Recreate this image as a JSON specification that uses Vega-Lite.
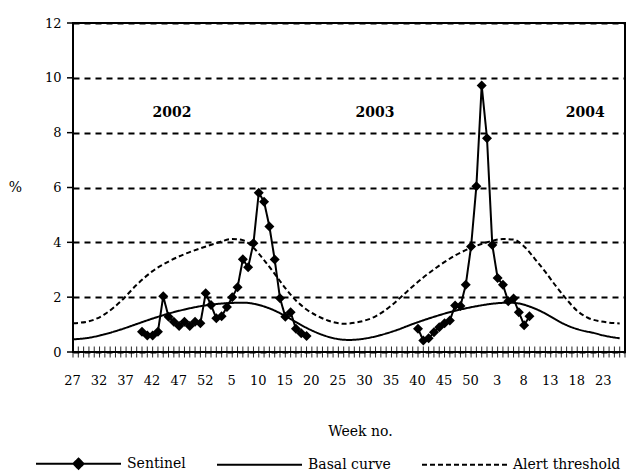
{
  "$schema": "https://vega.github.io/schema/vega-lite/v6.json",
  "width": 552,
  "height": 329,
  "autosize": {"type": "none"},
  "padding": {"left": 73, "top": 23, "right": 7, "bottom": 123},
  "background": "white",
  "config": {
    "font": "DejaVu Serif",
    "view": {"stroke": "black", "strokeWidth": 2},
    "axis": {
      "labelFont": "DejaVu Serif", "labelFontSize": 13, "labelColor": "black",
      "titleFont": "DejaVu Serif", "titleFontSize": 14, "titleFontWeight": "normal", "titleColor": "black"
    }
  },
  "datasets": {
    "curves": [
      {"i": 0, "v": 0.46, "series": "Basal curve"},
      {"i": 3, "v": 0.52, "series": "Basal curve"},
      {"i": 6, "v": 0.65, "series": "Basal curve"},
      {"i": 9, "v": 0.82, "series": "Basal curve"},
      {"i": 12, "v": 1.02, "series": "Basal curve"},
      {"i": 15, "v": 1.22, "series": "Basal curve"},
      {"i": 18, "v": 1.4, "series": "Basal curve"},
      {"i": 21, "v": 1.55, "series": "Basal curve"},
      {"i": 24, "v": 1.67, "series": "Basal curve"},
      {"i": 27, "v": 1.75, "series": "Basal curve"},
      {"i": 30, "v": 1.79, "series": "Basal curve"},
      {"i": 32, "v": 1.8, "series": "Basal curve"},
      {"i": 34, "v": 1.76, "series": "Basal curve"},
      {"i": 36, "v": 1.66, "series": "Basal curve"},
      {"i": 38, "v": 1.51, "series": "Basal curve"},
      {"i": 40, "v": 1.31, "series": "Basal curve"},
      {"i": 42, "v": 1.09, "series": "Basal curve"},
      {"i": 44, "v": 0.88, "series": "Basal curve"},
      {"i": 46, "v": 0.7, "series": "Basal curve"},
      {"i": 48, "v": 0.56, "series": "Basal curve"},
      {"i": 50, "v": 0.47, "series": "Basal curve"},
      {"i": 52, "v": 0.44, "series": "Basal curve"},
      {"i": 55, "v": 0.49, "series": "Basal curve"},
      {"i": 58, "v": 0.62, "series": "Basal curve"},
      {"i": 61, "v": 0.8, "series": "Basal curve"},
      {"i": 64, "v": 1.02, "series": "Basal curve"},
      {"i": 67, "v": 1.22, "series": "Basal curve"},
      {"i": 70, "v": 1.4, "series": "Basal curve"},
      {"i": 73, "v": 1.55, "series": "Basal curve"},
      {"i": 76, "v": 1.67, "series": "Basal curve"},
      {"i": 79, "v": 1.76, "series": "Basal curve"},
      {"i": 82, "v": 1.8, "series": "Basal curve"},
      {"i": 84, "v": 1.77, "series": "Basal curve"},
      {"i": 86, "v": 1.66, "series": "Basal curve"},
      {"i": 88, "v": 1.5, "series": "Basal curve"},
      {"i": 90, "v": 1.29, "series": "Basal curve"},
      {"i": 92, "v": 1.07, "series": "Basal curve"},
      {"i": 94, "v": 0.9, "series": "Basal curve"},
      {"i": 96, "v": 0.78, "series": "Basal curve"},
      {"i": 98, "v": 0.7, "series": "Basal curve"},
      {"i": 100, "v": 0.6, "series": "Basal curve"},
      {"i": 103, "v": 0.5, "series": "Basal curve"},
      {"i": 0, "v": 1.05, "series": "Alert threshold"},
      {"i": 3, "v": 1.12, "series": "Alert threshold"},
      {"i": 6, "v": 1.38, "series": "Alert threshold"},
      {"i": 9, "v": 1.85, "series": "Alert threshold"},
      {"i": 12, "v": 2.45, "series": "Alert threshold"},
      {"i": 15, "v": 2.95, "series": "Alert threshold"},
      {"i": 18, "v": 3.3, "series": "Alert threshold"},
      {"i": 21, "v": 3.57, "series": "Alert threshold"},
      {"i": 24, "v": 3.78, "series": "Alert threshold"},
      {"i": 27, "v": 3.97, "series": "Alert threshold"},
      {"i": 30, "v": 4.12, "series": "Alert threshold"},
      {"i": 32, "v": 4.08, "series": "Alert threshold"},
      {"i": 34, "v": 3.8, "series": "Alert threshold"},
      {"i": 36, "v": 3.35, "series": "Alert threshold"},
      {"i": 38, "v": 2.85, "series": "Alert threshold"},
      {"i": 40, "v": 2.33, "series": "Alert threshold"},
      {"i": 42, "v": 1.88, "series": "Alert threshold"},
      {"i": 44, "v": 1.55, "series": "Alert threshold"},
      {"i": 46, "v": 1.32, "series": "Alert threshold"},
      {"i": 48, "v": 1.15, "series": "Alert threshold"},
      {"i": 51, "v": 1.03, "series": "Alert threshold"},
      {"i": 54, "v": 1.1, "series": "Alert threshold"},
      {"i": 57, "v": 1.3, "series": "Alert threshold"},
      {"i": 60, "v": 1.7, "series": "Alert threshold"},
      {"i": 63, "v": 2.22, "series": "Alert threshold"},
      {"i": 66, "v": 2.72, "series": "Alert threshold"},
      {"i": 69, "v": 3.15, "series": "Alert threshold"},
      {"i": 72, "v": 3.52, "series": "Alert threshold"},
      {"i": 75, "v": 3.8, "series": "Alert threshold"},
      {"i": 78, "v": 4.0, "series": "Alert threshold"},
      {"i": 81, "v": 4.12, "series": "Alert threshold"},
      {"i": 83, "v": 4.1, "series": "Alert threshold"},
      {"i": 85, "v": 3.85, "series": "Alert threshold"},
      {"i": 87, "v": 3.4, "series": "Alert threshold"},
      {"i": 89, "v": 2.92, "series": "Alert threshold"},
      {"i": 91, "v": 2.4, "series": "Alert threshold"},
      {"i": 93, "v": 1.92, "series": "Alert threshold"},
      {"i": 95, "v": 1.5, "series": "Alert threshold"},
      {"i": 97, "v": 1.25, "series": "Alert threshold"},
      {"i": 100, "v": 1.1, "series": "Alert threshold"},
      {"i": 103, "v": 1.04, "series": "Alert threshold"}
    ],
    "sentinel": [
      {"i": 13, "v": 0.74, "season": "2002", "series": "Sentinel"},
      {"i": 14, "v": 0.6, "season": "2002", "series": "Sentinel"},
      {"i": 15, "v": 0.6, "season": "2002", "series": "Sentinel"},
      {"i": 16, "v": 0.74, "season": "2002", "series": "Sentinel"},
      {"i": 17, "v": 2.03, "season": "2002", "series": "Sentinel"},
      {"i": 18, "v": 1.29, "season": "2002", "series": "Sentinel"},
      {"i": 19, "v": 1.1, "season": "2002", "series": "Sentinel"},
      {"i": 20, "v": 0.95, "season": "2002", "series": "Sentinel"},
      {"i": 21, "v": 1.1, "season": "2002", "series": "Sentinel"},
      {"i": 22, "v": 0.95, "season": "2002", "series": "Sentinel"},
      {"i": 23, "v": 1.1, "season": "2002", "series": "Sentinel"},
      {"i": 24, "v": 1.05, "season": "2002", "series": "Sentinel"},
      {"i": 25, "v": 2.14, "season": "2002", "series": "Sentinel"},
      {"i": 26, "v": 1.71, "season": "2002", "series": "Sentinel"},
      {"i": 27, "v": 1.23, "season": "2002", "series": "Sentinel"},
      {"i": 28, "v": 1.3, "season": "2002", "series": "Sentinel"},
      {"i": 29, "v": 1.64, "season": "2002", "series": "Sentinel"},
      {"i": 30, "v": 2.0, "season": "2002", "series": "Sentinel"},
      {"i": 31, "v": 2.36, "season": "2002", "series": "Sentinel"},
      {"i": 32, "v": 3.38, "season": "2002", "series": "Sentinel"},
      {"i": 33, "v": 3.09, "season": "2002", "series": "Sentinel"},
      {"i": 34, "v": 3.97, "season": "2002", "series": "Sentinel"},
      {"i": 35, "v": 5.81, "season": "2002", "series": "Sentinel"},
      {"i": 36, "v": 5.48, "season": "2002", "series": "Sentinel"},
      {"i": 37, "v": 4.58, "season": "2002", "series": "Sentinel"},
      {"i": 38, "v": 3.37, "season": "2002", "series": "Sentinel"},
      {"i": 39, "v": 1.96, "season": "2002", "series": "Sentinel"},
      {"i": 40, "v": 1.29, "season": "2002", "series": "Sentinel"},
      {"i": 41, "v": 1.45, "season": "2002", "series": "Sentinel"},
      {"i": 42, "v": 0.85, "season": "2002", "series": "Sentinel"},
      {"i": 43, "v": 0.68, "season": "2002", "series": "Sentinel"},
      {"i": 44, "v": 0.58, "season": "2002", "series": "Sentinel"},
      {"i": 65, "v": 0.85, "season": "2003", "series": "Sentinel"},
      {"i": 66, "v": 0.42, "season": "2003", "series": "Sentinel"},
      {"i": 67, "v": 0.5, "season": "2003", "series": "Sentinel"},
      {"i": 68, "v": 0.72, "season": "2003", "series": "Sentinel"},
      {"i": 69, "v": 0.9, "season": "2003", "series": "Sentinel"},
      {"i": 70, "v": 1.05, "season": "2003", "series": "Sentinel"},
      {"i": 71, "v": 1.15, "season": "2003", "series": "Sentinel"},
      {"i": 72, "v": 1.7, "season": "2003", "series": "Sentinel"},
      {"i": 73, "v": 1.68, "season": "2003", "series": "Sentinel"},
      {"i": 74, "v": 2.45, "season": "2003", "series": "Sentinel"},
      {"i": 75, "v": 3.85, "season": "2003", "series": "Sentinel"},
      {"i": 76, "v": 6.05, "season": "2003", "series": "Sentinel"},
      {"i": 77, "v": 9.72, "season": "2003", "series": "Sentinel"},
      {"i": 78, "v": 7.8, "season": "2003", "series": "Sentinel"},
      {"i": 79, "v": 3.9, "season": "2003", "series": "Sentinel"},
      {"i": 80, "v": 2.7, "season": "2003", "series": "Sentinel"},
      {"i": 81, "v": 2.45, "season": "2003", "series": "Sentinel"},
      {"i": 82, "v": 1.85, "season": "2003", "series": "Sentinel"},
      {"i": 83, "v": 1.95, "season": "2003", "series": "Sentinel"},
      {"i": 84, "v": 1.45, "season": "2003", "series": "Sentinel"},
      {"i": 85, "v": 0.98, "season": "2003", "series": "Sentinel"},
      {"i": 86, "v": 1.3, "season": "2003", "series": "Sentinel"}
    ],
    "years": [
      {"i": 18.65, "v": 8.72, "label": "2002"},
      {"i": 56.9, "v": 8.72, "label": "2003"},
      {"i": 96.5, "v": 8.72, "label": "2004"}
    ],
    "weeks": [
      {"i": 0}, {"i": 1}, {"i": 2}, {"i": 3}, {"i": 4}, {"i": 5}, {"i": 6}, {"i": 7}, {"i": 8}, {"i": 9},
      {"i": 10}, {"i": 11}, {"i": 12}, {"i": 13}, {"i": 14}, {"i": 15}, {"i": 16}, {"i": 17}, {"i": 18}, {"i": 19},
      {"i": 20}, {"i": 21}, {"i": 22}, {"i": 23}, {"i": 24}, {"i": 25}, {"i": 26}, {"i": 27}, {"i": 28}, {"i": 29},
      {"i": 30}, {"i": 31}, {"i": 32}, {"i": 33}, {"i": 34}, {"i": 35}, {"i": 36}, {"i": 37}, {"i": 38}, {"i": 39},
      {"i": 40}, {"i": 41}, {"i": 42}, {"i": 43}, {"i": 44}, {"i": 45}, {"i": 46}, {"i": 47}, {"i": 48}, {"i": 49},
      {"i": 50}, {"i": 51}, {"i": 52}, {"i": 53}, {"i": 54}, {"i": 55}, {"i": 56}, {"i": 57}, {"i": 58}, {"i": 59},
      {"i": 60}, {"i": 61}, {"i": 62}, {"i": 63}, {"i": 64}, {"i": 65}, {"i": 66}, {"i": 67}, {"i": 68}, {"i": 69},
      {"i": 70}, {"i": 71}, {"i": 72}, {"i": 73}, {"i": 74}, {"i": 75}, {"i": 76}, {"i": 77}, {"i": 78}, {"i": 79},
      {"i": 80}, {"i": 81}, {"i": 82}, {"i": 83}, {"i": 84}, {"i": 85}, {"i": 86}, {"i": 87}, {"i": 88}, {"i": 89},
      {"i": 90}, {"i": 91}, {"i": 92}, {"i": 93}, {"i": 94}, {"i": 95}, {"i": 96}, {"i": 97}, {"i": 98}, {"i": 99},
      {"i": 100}, {"i": 101}, {"i": 102}, {"i": 103}, {"i": 104}
    ],
    "levels": [
      {"v": 0}, {"v": 2}, {"v": 4}, {"v": 6}, {"v": 8}, {"v": 10}, {"v": 12}
    ]
  },
  "layer": [
    {
      "data": {"name": "curves"},
      "mark": {"type": "line", "interpolate": "monotone", "strokeWidth": 2, "color": "black"},
      "encoding": {
        "x": {
          "field": "i", "type": "quantitative",
          "scale": {"domain": [0, 104], "nice": false, "zero": false},
          "axis": {
            "values": [0,5,10,15,20,25,30,35,40,45,50,55,60,65,70,75,80,85,90,95,100],
            "tickCount": 500,
            "labelExpr": "'' + ((datum.value + 26) % 52 + 1)",
            "labelOverlap": false, "labelFlush": false, "labelOffset": -1,
            "domain": false, "grid": false, "offset": -5, "ticks": false,
            "tickSize": 10, "labelPadding": 27,
            "title": "Week no.", "titleX": 287, "titleY": 84, "titleAlign": "center", "titleBaseline": "middle"
          }
        },
        "y": {
          "field": "v", "type": "quantitative",
          "scale": {"domain": [0, 12], "nice": false},
          "axis": {
            "values": [0, 2, 4, 6, 8, 10, 12],
            "grid": true, "gridDash": [6, 5], "gridColor": "black", "gridWidth": 2, "gridOpacity": 1,
            "domain": false, "ticks": false, "tickSize": 6, "labelPadding": 12,
            "title": "%", "titleAngle": 0, "titleX": -58, "titleY": 164, "titleAlign": "center", "titleBaseline": "middle"
          }
        },
        "strokeDash": {
          "field": "series", "type": "nominal",
          "scale": {"domain": ["Sentinel", "Basal curve", "Alert threshold"], "range": [[1, 0], [1, 0], [5, 3]]},
          "legend": {
            "title": null, "orient": "none", "legendX": -38, "legendY": 397, "direction": "horizontal",
            "padding": 0, "symbolType": "stroke", "symbolSize": 7225, "symbolStrokeWidth": 2, "symbolStrokeColor": "black",
            "labelFont": "DejaVu Serif", "labelFontSize": 14, "labelColor": "black", "labelOffset": 5, "columnPadding": 27,
            "labelLimit": 300,
            "encode": {
              "symbols": {
                "update": {
                  "shape": {"signal": "datum.value === 'Sentinel' ? 'M-1,0H1M0,-0.12L0.12,0L0,0.12L-0.12,0Z' : 'stroke'"},
                  "fill": {"signal": "datum.value === 'Sentinel' ? 'black' : 'transparent'"},
                  "stroke": {"value": "black"}
                }
              }
            }
          }
        }
      }
    },
    {
      "data": {"name": "weeks"},
      "mark": {"type": "tick", "orient": "vertical", "size": 11, "thickness": 1, "color": "black", "opacity": 0.85},
      "encoding": {
        "x": {"field": "i", "type": "quantitative"},
        "y": {"datum": 0}
      }
    },
    {
      "data": {"name": "levels"},
      "mark": {"type": "tick", "orient": "horizontal", "size": 6, "thickness": 1.5, "color": "black", "opacity": 1},
      "encoding": {
        "x": {"datum": -0.57},
        "y": {"field": "v", "type": "quantitative"}
      }
    },
    {
      "data": {"name": "sentinel"},
      "mark": {"type": "line", "strokeWidth": 2, "color": "black", "point": {"shape": "diamond", "size": 100, "filled": true, "color": "black"}},
      "encoding": {
        "x": {"field": "i", "type": "quantitative"},
        "y": {"field": "v", "type": "quantitative"},
        "detail": {"field": "season", "type": "nominal"},
        "strokeDash": {"field": "series", "type": "nominal"}
      }
    },
    {
      "data": {"name": "years"},
      "mark": {"type": "text", "font": "DejaVu Serif", "fontWeight": "bold", "fontSize": 14, "color": "black"},
      "encoding": {
        "x": {"field": "i", "type": "quantitative"},
        "y": {"field": "v", "type": "quantitative"},
        "text": {"field": "label", "type": "nominal"}
      }
    }
  ]
}
